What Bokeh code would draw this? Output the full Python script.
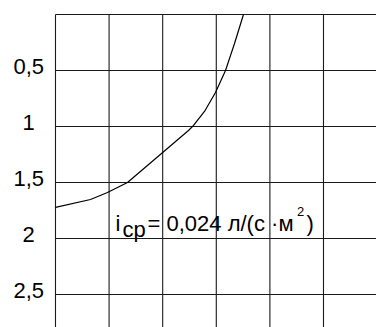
from bokeh.plotting import figure
from bokeh.models import Range1d
from bokeh.core.properties import value
from bokeh.embed import file_html
from bokeh.resources import INLINE

# ---- data ----
x_grid = [0, 1, 2, 3, 4, 5, 6]
y_ticks = [0.5, 1.0, 1.5, 2.0, 2.5]
y_tick_labels = ["0,5", "1", "1,5", "2", "2,5"]
y_grid = [0.0, 0.5, 1.0, 1.5, 2.0, 2.5]
curve_x = [0.0, 0.653, 0.970, 1.343, 1.978, 2.481, 2.575, 2.780, 2.985, 3.172, 3.340, 3.507]
curve_y = [1.723, 1.652, 1.589, 1.500, 1.241, 1.036, 0.991, 0.866, 0.696, 0.500, 0.259, 0.000]
label_main = "i"
label_sub = "cp"
label_eq = "="
label_val = "0,024 л/(с ·м"
label_sup = "2"
label_close = ")"

W, H = 376, 327
x0, x1 = -1.026, 5.989
y_bottom, y_top = 2.795, -0.125

p = figure(width=W, height=H, output_backend="svg", toolbar_location=None,
           x_range=Range1d(x0, x1), y_range=Range1d(y_bottom, y_top),
           min_border=0, min_border_left=0, min_border_right=0,
           min_border_top=0, min_border_bottom=0)
p.axis.visible = False
p.grid.visible = False
p.outline_line_color = None
p.background_fill_color = "white"
p.border_fill_color = "white"

line_col = "#1a1a1a"
p.segment(x0=x_grid, y0=[0.0] * len(x_grid), x1=x_grid, y1=[y_bottom] * len(x_grid),
          line_color=line_col, line_width=1.1)
p.segment(x0=[0.0] * len(y_grid), y0=y_grid, x1=[x1] * len(y_grid), y1=y_grid,
          line_color=line_col, line_width=1.1)

p.line(curve_x, curve_y, line_color="black", line_width=1.2, line_join="round")

font = value("Liberation Sans")
p.text(x=[-0.5] * len(y_ticks), y=y_ticks, text=y_tick_labels, text_font=font,
       text_font_size="22px", text_align="center", text_baseline="middle",
       y_offset=-4, text_color="black")

p.text(x=[1.12], y=[1.866], text=[label_main], text_font=font, text_font_size="22px",
       text_baseline="alphabetic", text_align="left", text_color="black")
p.text(x=[1.25], y=[1.920], text=[label_sub], text_font=font, text_font_size="22px",
       text_baseline="alphabetic", text_align="left", text_color="black")
p.text(x=[1.716], y=[1.866], text=[label_eq], text_font=font, text_font_size="22px",
       text_baseline="alphabetic", text_align="left", text_color="black")
p.text(x=[2.071], y=[1.866], text=[label_val], text_font=font, text_font_size="22px",
       text_baseline="alphabetic", text_align="left", text_color="black")
p.text(x=[4.506], y=[1.761], text=[label_sup], text_font=font, text_font_size="13px",
       text_baseline="alphabetic", text_align="left", text_color="black")
p.text(x=[4.683], y=[1.866], text=[label_close], text_font=font, text_font_size="22px",
       text_baseline="alphabetic", text_align="left", text_color="black")

open("out.html", "w").write(file_html(p, INLINE))
